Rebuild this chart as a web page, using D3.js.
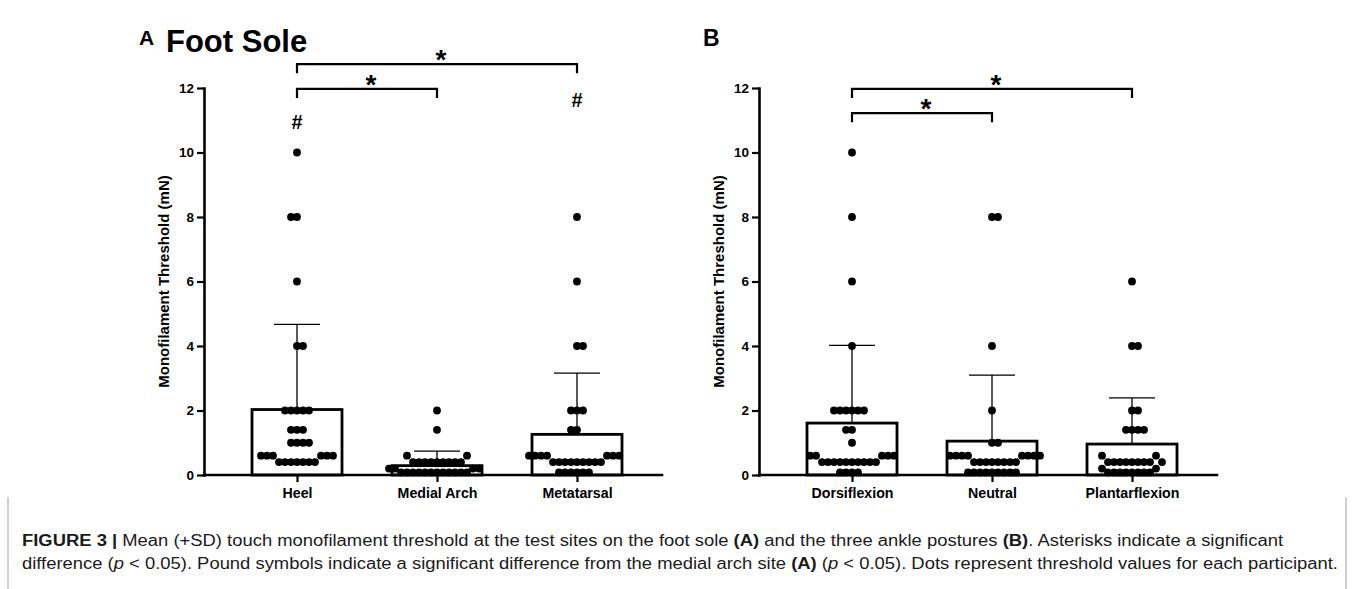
<!DOCTYPE html>
<html lang="en">
<head>
    <meta charset="UTF-8">
    <title>Figure 3</title>
    <script src="https://cdnjs.cloudflare.com/ajax/libs/d3/7.8.5/d3.min.js"></script>
    <style>
        body { margin: 0; background: #fff; }
        svg text { font-family: "Liberation Sans", Arial, sans-serif; }
        .cap text, .cap tspan { font-family: "Liberation Sans Narrow", "Liberation Sans", Arial, sans-serif; white-space: pre; }
    </style>
</head>
<body>
    <svg width="1356" height="589"></svg>
    <script>
        "use strict";

        // categories
        const sites = ["Heel", "Medial Arch", "Metatarsal"];
        const postures = ["Dorsiflexion", "Neutral", "Plantarflexion"];

        // mean and SD
        const meanSites = [2.03, 0.29, 1.26];
        const sdSites = [2.64, 0.45, 1.90];
        const meanPostures = [1.61, 1.05, 0.96];
        const sdPostures = [2.41, 2.05, 1.43];

        // participant thresholds (mN)
        const heel = [10, 8, 8, 6, 4, 4, 2, 2, 2, 2, 2, 1.4, 1.4, 1.4, 1, 1, 1, 1,
            0.6, 0.6, 0.6, 0.6, 0.6, 0.6, 0.4, 0.4, 0.4, 0.4, 0.4, 0.4, 0.4];
        const medialArch = [2, 1.4, 0.6, 0.6, 0.4, 0.4, 0.4, 0.4, 0.4, 0.4, 0.4, 0.4, 0.4,
            0.2, 0.2, 0.2, 0.2, 0.08, 0.08, 0.08, 0.08, 0.08, 0.08, 0.08, 0.08, 0.08, 0.08, 0.08, 0.08];
        const metatarsal = [8, 6, 4, 4, 2, 2, 2, 1.4, 1.4, 0.6, 0.6, 0.6, 0.6, 0.6, 0.6, 0.6,
            0.4, 0.4, 0.4, 0.4, 0.4, 0.4, 0.4, 0.4, 0.4, 0.08, 0.08, 0.08, 0.08, 0.08, 0.08];
        const dorsiflexion = [10, 8, 6, 4, 2, 2, 2, 2, 2, 2, 1.4, 1.4, 1, 0.6, 0.6, 0.6, 0.6, 0.6,
            0.4, 0.4, 0.4, 0.4, 0.4, 0.4, 0.4, 0.4, 0.4, 0.4, 0.08, 0.08, 0.08, 0.08];
        const neutral = [8, 8, 4, 2, 1, 1, 0.6, 0.6, 0.6, 0.6, 0.6, 0.6, 0.6, 0.6,
            0.4, 0.4, 0.4, 0.4, 0.4, 0.4, 0.4, 0.4, 0.08, 0.08, 0.08, 0.08, 0.08, 0.08, 0.08, 0.08, 0.08];
        const plantarflexion = [6, 4, 4, 2, 2, 1.4, 1.4, 1.4, 1.4, 0.6, 0.6,
            0.4, 0.4, 0.4, 0.4, 0.4, 0.4, 0.4, 0.4, 0.4, 0.2, 0.2, 0.08, 0.08, 0.08, 0.08, 0.08, 0.08, 0.08, 0.08];

        // y ticks
        const yTicks = [0, 2, 4, 6, 8, 10, 12];

        // significance brackets [from, to, level] and pound marks [category, level]
        const bracketsSites = [["Heel", "Metatarsal", 12.74], ["Heel", "Medial Arch", 11.97]];
        const bracketsPostures = [["Dorsiflexion", "Plantarflexion", 11.97], ["Dorsiflexion", "Neutral", 11.22]];
        const poundSites = [["Heel", 10.72], ["Metatarsal", 11.4]];

        const svg = d3.select("svg");
        const y = d3.scaleLinear().domain([0, 12]).range([475, 88]);

        const R = 3.9, DX = 5.8, DY = 7, BARW = 90, CAPW = 46;

        // dots that sit close in height share one row and must not overlap sideways
        function swarm(values, cx) {
            const placed = [];
            values.slice().sort((a, b) => a - b).forEach((v, i) => {
                const py = y(v);
                const sign = i % 2 ? -1 : 1;
                let off = 0;
                for (let k = 0; k < 800; k++) {
                    const c = k === 0 ? 0 : Math.ceil(k / 2) * 0.25 * (k % 2 ? sign : -sign);
                    if (placed.every(p => Math.abs(p.y - py) >= DY || Math.abs(p.x - c) >= DX)) { off = c; break; }
                }
                placed.push({ x: off, y: py });
            });
            return placed.map(p => ({ cx: cx + p.x, cy: p.y }));
        }

        function panel(left, cats, groups, means, sds, brackets, pounds) {
            const g = svg.append("g");
            const x = d3.scalePoint().domain(cats).range([left + 93, left + 373]);
            const right = left + 458;

            // bars
            g.selectAll(".bar").data(cats).enter().append("rect")
                .attr("x", d => x(d) - BARW / 2)
                .attr("width", BARW)
                .attr("y", (d, i) => y(means[i]))
                .attr("height", (d, i) => y(0) - y(means[i]))
                .attr("fill", "#fff").attr("stroke", "#000").attr("stroke-width", 2.8);

            // error bars (+SD)
            cats.forEach((c, i) => {
                const top = y(means[i] + sds[i]);
                g.append("line").attr("x1", x(c)).attr("x2", x(c))
                    .attr("y1", y(means[i])).attr("y2", top)
                    .attr("stroke", "#000").attr("stroke-width", 1.3);
                g.append("line").attr("x1", x(c) - CAPW / 2).attr("x2", x(c) + CAPW / 2)
                    .attr("y1", top).attr("y2", top)
                    .attr("stroke", "#000").attr("stroke-width", 1.3);
            });

            // dots
            cats.forEach((c, i) => {
                g.append("g").selectAll("circle").data(swarm(groups[i], x(c))).enter()
                    .append("circle")
                    .attr("cx", d => d.cx).attr("cy", d => d.cy).attr("r", R).attr("fill", "#000");
            });

            // axes
            const ya = g.append("g").attr("transform", `translate(${left},0)`)
                .call(d3.axisLeft(y).tickValues(yTicks).tickSize(7).tickSizeOuter(0).tickPadding(3));
            ya.select(".domain").attr("stroke-width", 2.6).attr("stroke-linecap", "square");
            ya.selectAll(".tick line").attr("stroke-width", 2.2);
            ya.selectAll("text").attr("font-size", 13.5).attr("font-weight", "bold").attr("fill", "#000");

            const xa = g.append("g").attr("transform", `translate(0,${y(0)})`)
                .call(d3.axisBottom(x).tickSize(7).tickSizeOuter(0).tickPadding(6));
            xa.select(".domain").remove();
            xa.selectAll(".tick line").attr("stroke-width", 2.2);
            xa.selectAll("text").attr("font-size", 14.2).attr("font-weight", "bold").attr("fill", "#000");
            g.append("line").attr("x1", left).attr("x2", right).attr("y1", y(0)).attr("y2", y(0))
                .attr("stroke", "#000").attr("stroke-width", 2.6).attr("stroke-linecap", "square");

            // y label
            g.append("text")
                .attr("transform", `translate(${left - 35},${(y(0) + y(12)) / 2}) rotate(-90)`)
                .attr("text-anchor", "middle").attr("font-size", 15).attr("font-weight", "bold")
                .text("Monofilament Threshold (mN)");

            // brackets
            brackets.forEach(b => {
                const x1 = x(b[0]), x2 = x(b[1]), yb = y(b[2]);
                g.append("path").attr("d", `M${x1},${yb + 9}V${yb}H${x2}V${yb + 9}`)
                    .attr("fill", "none").attr("stroke", "#000").attr("stroke-width", 2.2);
                g.append("text").attr("x", (x1 + x2) / 2 + 4).attr("y", yb + 5)
                    .attr("text-anchor", "middle").attr("font-size", 28).attr("font-weight", "bold")
                    .text("*");
            });

            pounds.forEach(p => {
                g.append("text").attr("x", x(p[0])).attr("y", y(p[1]))
                    .attr("text-anchor", "middle").attr("font-size", 20).attr("font-weight", "bold")
                    .text("#");
            });
            return g;
        }

        panel(204, sites, [heel, medialArch, metatarsal], meanSites, sdSites, bracketsSites, poundSites);
        panel(759, postures, [dorsiflexion, neutral, plantarflexion], meanPostures, sdPostures, bracketsPostures, []);

        // panel titles
        svg.append("text").attr("x", 139).attr("y", 45).attr("font-size", 21).attr("font-weight", "bold").text("A");
        svg.append("text").attr("x", 166).attr("y", 52).attr("font-size", 31).attr("font-weight", "bold").text("Foot Sole");
        svg.append("text").attr("x", 703).attr("y", 46).attr("font-size", 23).attr("font-weight", "bold").text("B");

        // caption box
        svg.append("path").attr("d", "M8,497V589M1346,497V589")
            .attr("stroke", "#b0b0b0").attr("stroke-width", 1.2).attr("fill", "none");

        const cap = svg.append("g").attr("class", "cap").attr("fill", "#1a1a1a").attr("font-size", 16);
        const l1 = cap.append("text").attr("x", 22).attr("y", 546)
            .attr("textLength", 1261).attr("lengthAdjust", "spacingAndGlyphs");
        l1.append("tspan").attr("font-weight", "bold").text("FIGURE 3 |");
        l1.append("tspan").text(" Mean (+SD) touch monofilament threshold at the test sites on the foot sole ");
        l1.append("tspan").attr("font-weight", "bold").text("(A)");
        l1.append("tspan").text(" and the three ankle postures ");
        l1.append("tspan").attr("font-weight", "bold").text("(B)");
        l1.append("tspan").text(". Asterisks indicate a significant");

        const l2 = cap.append("text").attr("x", 22).attr("y", 569)
            .attr("textLength", 1316).attr("lengthAdjust", "spacingAndGlyphs");
        l2.append("tspan").text("difference (");
        l2.append("tspan").attr("font-style", "italic").text("p");
        l2.append("tspan").text(" < 0.05). Pound symbols indicate a significant difference from the medial arch site ");
        l2.append("tspan").attr("font-weight", "bold").text("(A)");
        l2.append("tspan").text(" (");
        l2.append("tspan").attr("font-style", "italic").text("p");
        l2.append("tspan").text(" < 0.05). Dots represent threshold values for each participant.");
    </script>
</body>
</html>
